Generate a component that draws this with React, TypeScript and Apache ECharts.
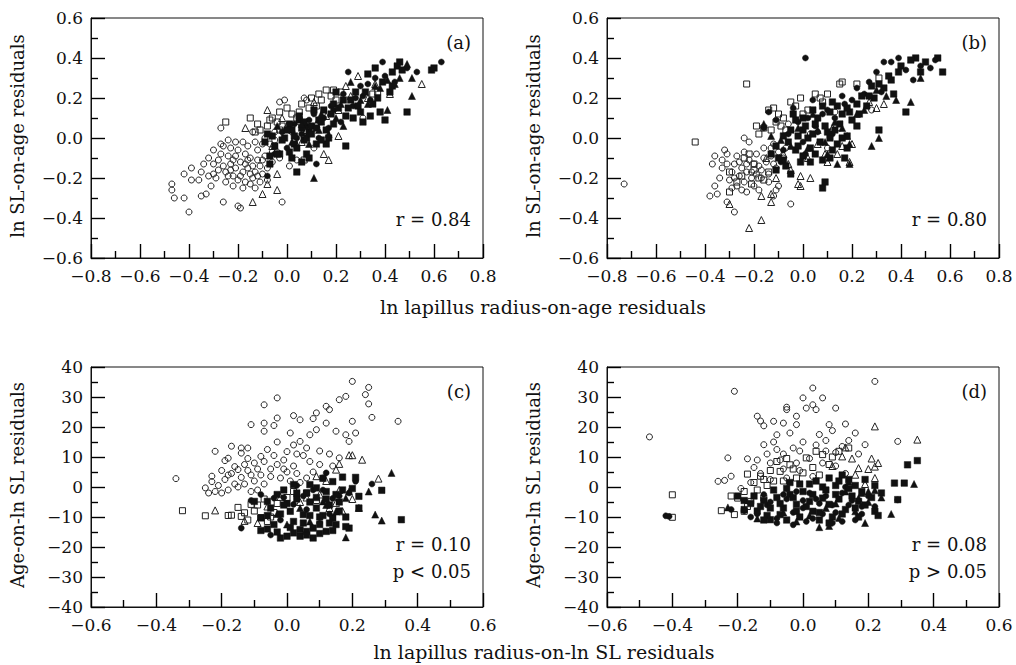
import React, { useEffect, useRef } from "react";
import * as echarts from "echarts";

// ---------- Panel (a): ln SL-on-age residuals vs ln lapillus radius-on-age residuals ----------
const openCircleA = [[-0.47,-0.23],[-0.47,-0.26],[-0.46,-0.30],[-0.42,-0.30],[-0.40,-0.37],[-0.42,-0.18],[-0.39,-0.15],[-0.39,-0.21],[-0.36,-0.21],[-0.35,-0.29],[-0.33,-0.28],[-0.34,-0.13],[-0.32,-0.10],[-0.30,-0.06],[-0.27,0.05],[-0.31,-0.24],[-0.30,-0.18],[-0.27,-0.03],[-0.26,-0.32],[-0.25,-0.17],[-0.24,-0.01],[-0.24,-0.09],[-0.23,-0.13],[-0.22,-0.19],[-0.22,-0.24],[-0.20,-0.34],[-0.19,-0.35],[-0.20,-0.06],[-0.19,-0.12],[-0.18,-0.17],[-0.17,-0.22],[-0.16,-0.04],[-0.15,-0.10],[-0.14,-0.20],[-0.13,-0.25],[-0.12,-0.06],[-0.11,-0.14],[-0.10,-0.18],[-0.02,-0.32],[-0.03,0.18],[-0.01,0.19],[0.07,0.20],[0.08,0.19],[0.01,-0.14],[0.04,-0.11],[0.31,0.10],[-0.28,-0.11],[-0.26,-0.14],[-0.21,-0.09],[-0.18,-0.02],[-0.17,-0.08],[-0.14,-0.14],[-0.13,-0.02],[-0.09,-0.09],[-0.08,-0.21],[-0.07,-0.03],[-0.06,-0.12],[-0.05,0.03],[-0.04,-0.07],[-0.23,-0.05],[-0.29,-0.20],[-0.11,-0.22],[-0.16,-0.15],[-0.20,-0.21],[-0.25,-0.22],[-0.14,0.03],[0.02,0.03],[0.05,0.08],[-0.09,0.00],[0.11,-0.05],[-0.21,-0.15],[-0.18,-0.25],[-0.15,-0.18],[-0.12,-0.11],[-0.24,-0.19],[-0.27,-0.08],[-0.26,-0.04],[-0.22,-0.11],[-0.19,-0.19],[-0.16,-0.11],[-0.13,-0.17],[-0.10,-0.03],[-0.08,-0.15],[-0.06,-0.07],[-0.21,-0.02],[-0.17,-0.13],[-0.12,-0.19],[-0.23,-0.16],[-0.15,-0.23],[-0.10,-0.11],[-0.05,-0.01],[-0.03,-0.10],[-0.35,-0.17],[-0.32,-0.19],[-0.28,-0.16],[-0.30,-0.13]];
const openSquareA = [[-0.25,0.08],[-0.15,0.10],[-0.07,0.09],[-0.06,0.10],[-0.11,0.04],[-0.03,0.13],[0.00,0.15],[0.05,0.13],[0.09,0.15],[0.13,0.22],[0.16,0.24],[0.18,0.21],[0.22,0.23],[0.12,0.16],[0.07,-0.11],[-0.03,0.04],[0.04,0.10],[-0.12,0.07],[-0.08,0.06],[0.37,0.23],[0.35,0.22],[0.10,0.20],[0.20,0.19],[-0.04,0.08],[0.02,0.12],[0.14,0.19],[-0.13,0.03],[0.08,0.03],[0.06,0.17],[0.19,0.24],[-0.02,0.06]];
const openTriangleA = [[-0.08,0.14],[-0.17,0.05],[-0.14,-0.32],[-0.10,-0.28],[-0.08,-0.23],[-0.04,-0.26],[-0.04,-0.18],[0.15,-0.08],[0.17,-0.11],[0.21,0.01],[0.21,0.14],[0.29,0.31],[0.55,0.27],[0.36,0.27],[0.26,0.21],[0.42,0.22],[0.08,0.04],[0.12,0.07],[0.03,-0.01],[-0.06,-0.04],[0.16,0.11],[0.11,0.18],[0.33,0.20],[0.24,0.26],[0.00,0.06],[0.06,-0.02],[-0.02,0.10]];
const filledCircleA = [[0.25,0.33],[0.39,0.38],[0.53,0.33],[0.63,0.38],[0.12,-0.13],[-0.08,-0.19],[0.31,0.21],[0.23,0.22],[0.08,0.06],[0.03,0.07],[0.19,0.14],[0.27,0.16],[0.34,0.19],[0.44,0.28],[0.49,0.35],[0.15,0.10],[0.06,0.02],[-0.02,0.03],[0.11,0.12],[0.22,0.08],[-0.05,-0.08],[0.00,-0.05],[0.36,0.30],[0.30,0.26],[0.17,0.05],[0.04,0.00],[0.09,0.09],[0.13,0.00],[0.18,0.16],[0.28,0.20],[0.33,0.27],[0.40,0.31]];
const filledSquareA = [[0.04,-0.17],[-0.03,-0.08],[0.05,0.09],[0.08,-0.08],[0.12,-0.03],[0.24,-0.04],[0.31,0.08],[0.33,0.32],[0.42,0.23],[0.43,0.33],[0.46,0.38],[0.49,0.13],[0.59,0.34],[0.60,0.35],[0.36,0.35],[0.20,0.23],[0.23,0.19],[0.29,0.16],[0.13,0.09],[0.01,0.07],[-0.06,0.01],[-0.08,0.02],[0.02,0.04],[0.09,0.03],[0.16,0.04],[0.19,0.07],[0.24,0.11],[0.19,0.17],[0.34,0.11],[0.38,0.13],[0.40,0.09],[0.11,0.14],[0.05,0.11],[0.07,-0.01],[-0.04,-0.08],[-0.07,-0.09],[-0.02,-0.01],[0.00,0.04],[0.03,-0.03],[0.16,-0.03],[0.17,0.00],[0.15,0.14],[-0.07,-0.13],[0.06,-0.12],[0.10,0.06],[0.26,0.19],[0.32,0.23],[0.39,0.28],[0.45,0.36],[0.28,0.23],[0.21,0.15],[0.14,0.08],[-0.09,-0.02],[0.01,-0.07],[0.09,-0.10],[0.47,0.34],[0.03,0.01],[0.06,0.05],[0.08,0.00],[0.10,0.02],[0.12,0.05],[0.04,-0.05],[0.14,-0.01],[0.18,0.12],[0.25,0.15],[0.27,0.10],[0.30,0.13],[0.35,0.17],[0.37,0.20],[0.43,0.26],[-0.01,0.00],[0.07,0.08],[0.02,-0.10],[-0.05,-0.04]];
const filledTriangleA = [[0.11,-0.20],[0.41,0.14],[0.51,0.21],[0.51,0.30],[0.49,0.37],[0.46,0.30],[0.36,0.26],[0.23,0.06],[0.20,0.10],[0.17,0.02],[0.26,0.28],[0.33,0.17],[0.41,0.29],[0.13,0.04],[0.02,-0.02],[-0.04,0.06],[0.09,-0.03],[0.30,0.19],[0.38,0.25],[0.44,0.27],[0.06,0.07],[0.14,0.12],[0.22,0.17]];

// ---------- Panel (b) ----------
const openCircleB = [[-0.73,-0.23],[-0.24,0.00],[-0.36,-0.24],[-0.38,-0.29],[-0.35,-0.28],[-0.31,-0.32],[-0.28,-0.37],[-0.37,-0.13],[-0.33,-0.11],[-0.36,-0.09],[-0.31,-0.08],[-0.32,-0.06],[-0.05,-0.33],[-0.12,-0.29],[-0.10,-0.24],[-0.11,-0.26],[-0.30,-0.21],[-0.29,-0.17],[-0.28,-0.13],[-0.27,-0.24],[-0.26,-0.19],[-0.25,-0.15],[-0.24,-0.22],[-0.23,-0.27],[-0.22,-0.11],[-0.21,-0.17],[-0.20,-0.24],[-0.19,-0.08],[-0.18,-0.14],[-0.17,-0.20],[-0.16,-0.05],[-0.15,-0.12],[-0.14,-0.18],[-0.13,-0.09],[-0.12,-0.03],[-0.11,-0.15],[-0.34,-0.20],[-0.33,-0.15],[-0.27,-0.09],[-0.22,-0.02],[-0.29,-0.25],[0.28,0.14],[0.13,0.13],[0.15,0.05],[-0.08,-0.10],[0.03,0.02],[-0.06,0.07],[0.10,-0.05],[-0.18,-0.26],[-0.24,-0.07],[-0.26,-0.12],[-0.23,-0.17],[-0.20,-0.13],[-0.17,-0.16],[-0.14,-0.22],[-0.21,-0.20],[-0.28,-0.20],[-0.25,-0.26],[-0.19,-0.18],[-0.16,-0.10],[-0.12,-0.13],[-0.10,-0.07],[-0.07,-0.05],[-0.13,-0.05],[-0.23,-0.13],[-0.31,-0.13]];
const openSquareB = [[-0.44,-0.02],[-0.23,0.27],[-0.12,0.15],[-0.01,0.20],[-0.05,0.18],[0.15,0.27],[0.16,0.28],[0.22,0.27],[0.31,0.30],[-0.19,0.06],[-0.16,0.05],[-0.14,0.14],[0.05,0.22],[0.08,0.18],[-0.18,-0.20],[-0.25,-0.19],[-0.30,-0.17],[-0.27,-0.22],[-0.21,-0.23],[-0.16,-0.21],[-0.14,-0.17],[-0.30,-0.27],[-0.08,0.10],[-0.03,0.16],[0.07,0.20],[-0.11,0.08],[-0.20,-0.13],[-0.24,-0.10],[-0.10,0.12],[0.02,0.14],[0.10,0.22],[-0.07,0.04],[-0.18,0.02],[-0.13,0.04],[-0.09,0.06],[-0.20,-0.16],[-0.22,-0.08],[0.00,0.12]];
const openTriangleB = [[-0.22,-0.45],[-0.17,-0.41],[-0.30,-0.33],[-0.17,-0.29],[-0.13,-0.32],[-0.13,-0.28],[-0.01,-0.19],[0.03,-0.20],[-0.02,-0.23],[-0.01,-0.24],[-0.06,-0.13],[0.14,-0.08],[0.16,-0.04],[0.19,-0.12],[0.09,-0.08],[0.30,0.15],[0.33,0.17],[0.27,0.18],[-0.05,-0.16],[-0.11,-0.20],[0.06,-0.03],[0.20,-0.03],[0.12,0.05],[-0.15,-0.10],[-0.08,-0.08],[0.02,-0.10],[0.10,-0.12]];
const filledCircleB = [[0.01,0.40],[0.30,0.33],[0.33,0.38],[0.36,0.38],[0.39,0.40],[0.45,0.29],[0.52,0.35],[0.54,0.39],[-0.11,0.09],[-0.14,0.13],[-0.04,0.15],[-0.08,-0.06],[0.04,0.19],[0.16,0.21],[0.22,0.25],[-0.16,0.05],[0.27,0.28],[0.10,0.14],[0.06,0.03],[-0.02,0.08],[0.13,0.10],[0.42,0.34],[0.48,0.36],[0.20,0.19],[0.00,-0.02],[0.05,0.06],[0.02,0.10],[-0.06,0.02],[0.08,0.12],[0.12,0.02],[0.17,0.17],[0.25,0.22],[0.32,0.23],[-0.09,-0.12],[0.01,-0.08]];
const filledSquareB = [[0.42,0.13],[0.31,0.04],[0.22,0.06],[0.19,0.13],[0.09,-0.22],[0.08,-0.25],[0.57,0.33],[0.55,0.40],[0.46,0.40],[0.44,0.39],[0.40,0.36],[0.36,0.29],[0.08,-0.11],[0.05,-0.08],[-0.05,-0.18],[-0.11,-0.16],[-0.08,-0.11],[-0.03,-0.06],[0.00,-0.09],[0.03,-0.12],[0.11,0.00],[0.18,0.01],[0.15,0.07],[0.22,0.17],[0.24,0.21],[0.28,0.26],[0.11,0.13],[0.04,0.14],[-0.03,0.09],[-0.05,0.04],[-0.08,0.01],[-0.11,-0.04],[0.00,0.04],[0.17,-0.10],[0.18,-0.05],[0.06,0.10],[0.13,0.04],[0.02,0.00],[-0.06,-0.02],[0.26,0.16],[0.33,0.25],[0.37,0.22],[0.48,0.33],[-0.02,0.01],[0.09,0.06],[-0.13,-0.08],[0.14,0.16],[0.20,0.09],[0.29,0.20],[0.50,0.38],[-0.02,-0.04],[0.01,0.06],[0.04,0.02],[0.07,-0.02],[0.10,0.03],[0.12,-0.06],[0.16,0.00],[0.05,0.07],[-0.04,0.12],[0.08,0.16],[0.12,0.18],[0.16,0.12],[-0.10,-0.10],[-0.07,-0.14],[0.03,-0.05],[0.00,0.10],[0.18,0.15],[0.23,0.12],[0.27,0.21],[0.31,0.27],[0.35,0.31],[0.39,0.33],[0.11,-0.10],[0.14,-0.03],[-0.01,-0.12]];
const filledTriangleB = [[0.28,-0.04],[0.31,0.00],[0.44,0.18],[0.48,0.30],[0.19,-0.13],[0.14,-0.13],[0.19,-0.03],[0.18,0.01],[-0.16,0.07],[-0.05,-0.04],[0.25,0.14],[0.34,0.21],[-0.13,0.01],[0.02,-0.05],[0.09,-0.02],[0.38,0.19],[0.13,0.08],[0.04,0.12],[-0.09,-0.01],[0.30,0.24],[0.22,0.12],[0.06,0.04],[-0.02,0.05],[0.10,-0.08],[0.16,0.05]];

// ---------- Panel (c): Age-on-ln SL residuals vs ln lapillus radius-on-ln SL residuals ----------
const openCircleC = [[-0.34,2.8],[-0.25,-0.3],[-0.24,-2.0],[-0.23,3.6],[-0.23,1.8],[-0.22,11.9],[-0.19,8.8],[-0.18,9.6],[-0.17,13.6],[-0.14,13.0],[-0.14,11.3],[-0.12,13.0],[-0.11,20.8],[-0.07,27.4],[-0.07,21.3],[-0.07,18.6],[-0.03,29.7],[-0.03,23.0],[-0.04,20.5],[0.02,23.8],[0.04,22.4],[0.01,18.0],[0.08,22.8],[0.09,24.7],[0.12,26.9],[0.13,25.8],[0.16,29.1],[0.18,30.2],[0.20,35.2],[0.20,21.9],[0.21,18.0],[0.24,30.8],[0.25,33.2],[0.25,27.7],[0.26,23.2],[0.34,21.9],[0.18,17.4],[0.15,18.6],[0.12,21.3],[0.09,19.1],[0.07,17.4],[0.04,15.2],[0.02,14.0],[0.00,11.8],[-0.03,15.0],[-0.06,12.5],[-0.08,10.2],[-0.10,8.0],[-0.12,5.5],[-0.14,3.2],[-0.16,1.0],[-0.18,-1.0],[-0.20,-2.0],[-0.21,0.5],[-0.08,4.0],[-0.03,7.5],[0.02,7.0],[0.07,8.5],[0.10,7.5],[0.11,3.0],[0.16,9.7],[0.19,15.2],[0.05,10.5],[-0.01,9.0],[-0.05,6.0],[-0.10,2.0],[-0.13,7.5],[-0.02,3.0],[0.03,4.5],[0.06,13.0],[0.10,12.0],[0.13,11.0],[0.08,5.0],[-0.15,5.8],[-0.07,1.0],[-0.18,4.0],[0.00,5.0],[0.04,1.5],[0.14,7.0],[-0.11,-1.5],[-0.19,2.5],[-0.17,4.5],[-0.15,0.0],[-0.13,1.0],[-0.11,4.0],[-0.09,6.0],[-0.07,8.5],[-0.05,3.5],[-0.04,10.5],[-0.01,6.0],[0.01,2.0],[0.03,11.0],[-0.12,9.5],[-0.16,6.8],[-0.20,5.5],[-0.22,-1.5],[-0.09,-1.0],[0.06,3.0]];
const openSquareC = [[-0.32,-7.9],[-0.25,-9.6],[-0.17,-9.4],[-0.18,-9.5],[-0.15,-6.8],[-0.13,-8.6],[-0.10,-8.0],[-0.08,-10.2],[-0.06,-11.5],[-0.03,-5.5],[0.02,-1.5],[0.06,-2.0],[-0.11,-5.8],[-0.07,-4.0],[-0.12,-11.0],[0.00,-3.5],[0.09,-4.5],[-0.04,-8.5],[-0.09,-6.0],[-0.05,-10.0],[-0.14,-9.8]];
const openTriangleC = [[-0.22,-7.8],[-0.13,-11.3],[-0.02,-3.3],[0.15,5.8],[0.16,7.7],[0.19,10.6],[0.20,10.6],[0.23,9.1],[0.28,2.8],[0.22,-7.0],[0.15,-5.3],[0.17,-8.1],[0.16,-1.0],[0.09,3.6],[0.12,2.0],[0.04,-5.0],[-0.09,-12.0],[0.10,-2.5],[0.20,-4.0],[0.06,-3.5],[-0.06,-6.5],[0.13,-7.0]];
const filledCircleC = [[-0.14,-13.7],[0.12,4.7],[0.26,1.0],[0.21,1.9],[-0.04,-3.7],[-0.08,-2.5],[0.02,-5.8],[-0.02,-11.0],[0.06,-7.5],[0.10,-12.0],[0.16,-3.0],[-0.11,-4.5],[0.03,0.5],[0.08,-1.0],[0.19,-2.0],[-0.05,-16.0],[0.13,-9.0],[0.05,-3.0],[-0.01,-3.5],[0.11,-1.0],[0.14,-3.8]];
const filledSquareC = [[0.35,-10.9],[0.29,-1.1],[0.17,3.3],[0.21,3.2],[0.22,-3.1],[0.22,-7.0],[0.19,-13.7],[0.18,-13.2],[-0.02,-17.0],[0.00,-16.4],[0.02,-15.3],[0.04,-14.2],[0.06,-14.8],[0.08,-13.7],[0.10,-12.5],[0.04,-16.4],[0.08,-17.0],[0.12,-14.8],[0.14,-10.3],[0.15,-2.5],[0.12,-1.5],[0.07,0.8],[0.09,-0.3],[0.11,2.9],[0.14,1.8],[0.02,0.8],[-0.03,-2.5],[-0.06,-4.8],[-0.10,-4.8],[-0.08,-10.3],[-0.04,-12.5],[0.01,-8.1],[0.05,-9.2],[0.09,-7.0],[0.13,-6.0],[0.16,-8.0],[-0.06,-14.0],[-0.02,-9.0],[0.03,-4.0],[0.06,-2.0],[0.11,-9.5],[0.17,-1.0],[0.20,-0.5],[-0.08,-14.5],[0.00,-5.5],[0.07,-5.0],[0.13,-12.0],[-0.01,-1.0],[-0.05,-7.0],[-0.01,-6.0],[0.02,-11.5],[0.05,-12.0],[0.07,-9.5],[0.10,-10.0],[0.12,-4.0],[0.15,-12.5],[0.18,-10.0],[0.03,-2.0],[-0.06,-9.5],[0.06,-16.0],[0.10,-15.5],[0.14,-14.5],[0.01,-13.5],[0.16,-5.0],[0.09,-3.5],[-0.03,-15.0]];
const filledTriangleC = [[0.32,4.7],[0.27,-9.2],[0.29,-11.2],[0.18,-16.8],[0.15,-8.2],[0.18,-3.7],[0.19,-1.5],[0.12,-6.0],[0.11,-4.8],[0.04,-7.0],[-0.03,-9.0],[0.25,-1.5],[0.07,-11.5],[0.00,-12.5]];

// ---------- Panel (d) ----------
const openCircleD = [[-0.47,16.7],[-0.21,31.9],[-0.23,9.7],[-0.17,9.4],[-0.26,1.9],[-0.24,2.2],[-0.22,3.6],[-0.14,23.6],[-0.12,20.4],[-0.13,22.0],[-0.09,21.9],[-0.06,21.3],[-0.05,25.8],[-0.05,26.6],[-0.02,20.8],[-0.02,23.6],[0.00,29.7],[0.01,26.3],[0.03,33.0],[0.03,27.4],[0.04,25.8],[0.06,29.7],[0.10,26.3],[0.08,20.8],[0.09,18.8],[0.13,21.0],[0.22,35.2],[0.29,15.2],[-0.08,17.4],[-0.09,15.0],[-0.12,14.1],[-0.11,11.0],[-0.08,12.5],[-0.06,11.0],[-0.03,13.0],[-0.01,12.0],[0.05,17.5],[0.04,14.0],[0.16,18.0],[0.19,14.1],[0.14,15.5],[0.10,11.5],[-0.15,6.5],[-0.13,4.5],[-0.10,8.0],[-0.06,6.0],[-0.02,8.0],[0.02,9.5],[0.07,12.0],[0.12,13.5],[-0.16,1.5],[-0.19,-0.5],[-0.04,18.0],[0.07,15.5],[0.17,11.0],[-0.14,9.0],[-0.10,2.5],[-0.05,3.0],[-0.01,5.5],[0.03,3.5],[0.06,8.0],[0.10,7.0],[0.00,15.0],[-0.07,9.0],[0.13,4.5]];
const openSquareD = [[-0.40,-2.6],[-0.40,-10.1],[-0.25,-7.9],[-0.21,-9.2],[-0.17,4.3],[-0.18,-1.5],[-0.13,3.6],[-0.12,2.5],[-0.07,5.2],[-0.04,7.4],[0.01,9.7],[0.04,11.9],[0.06,10.8],[0.11,11.9],[0.14,13.0],[-0.16,-4.8],[-0.12,-3.7],[-0.20,-3.7],[-0.18,-8.1],[-0.02,3.0],[0.00,4.7],[-0.08,8.5],[-0.05,9.5],[-0.09,2.0],[-0.15,1.5],[0.03,6.5],[0.08,7.5],[-0.10,5.5],[-0.14,-1.0],[-0.11,0.5],[-0.06,2.0],[-0.03,6.0],[0.05,4.0],[-0.22,-3.0],[-0.17,-6.5],[0.09,10.0]];
const openTriangleD = [[0.22,20.2],[0.35,15.8],[0.23,8.0],[0.22,6.8],[0.22,3.0],[0.16,4.1],[0.17,6.3],[0.12,10.2],[0.13,13.2],[0.19,1.0],[0.20,6.0],[0.09,7.0],[0.15,9.5],[0.21,9.5]];
const filledCircleD = [[-0.41,-9.8],[-0.42,-9.6],[-0.03,-12.6],[0.09,-12.0],[0.03,-10.5],[-0.08,-10.5],[-0.14,-9.0],[-0.18,-8.0],[-0.22,-7.5],[-0.10,-5.0],[-0.05,-4.0],[0.00,-7.0],[0.05,-5.5],[0.10,-8.5],[0.14,-6.0],[0.18,-9.0],[0.22,-6.5],[0.29,-4.3],[0.12,-2.0],[0.07,-3.0],[-0.02,-1.5],[-0.12,-2.5],[0.16,-11.0],[0.20,-3.0],[0.02,-2.0],[-0.16,-10.0],[-0.11,-6.0],[-0.06,-2.5],[-0.03,-8.5],[0.01,-11.5],[0.04,-4.0],[0.06,-9.0],[0.09,-6.0],[0.12,-11.5],[0.15,-4.5],[0.18,-6.5],[-0.08,-12.0],[0.00,-4.5],[0.13,0.0]];
const filledSquareD = [[-0.10,-10.9],[0.22,-8.1],[0.32,7.4],[0.35,8.8],[0.28,1.3],[0.31,1.3],[0.29,-4.2],[0.22,0.5],[0.17,-4.8],[0.18,-1.5],[0.12,4.0],[0.08,3.0],[0.04,2.0],[0.00,-1.5],[-0.04,-2.5],[-0.08,-3.5],[-0.12,-4.5],[-0.16,-5.5],[-0.18,-4.5],[-0.06,-7.0],[-0.02,-5.8],[0.02,-4.8],[0.06,-3.7],[0.10,-2.5],[0.14,-0.5],[0.08,-5.8],[0.03,-8.1],[-0.02,-8.1],[-0.07,-9.2],[0.12,-9.0],[0.16,-7.0],[-0.14,-8.0],[-0.10,-7.0],[0.05,-11.0],[0.19,2.5],[0.14,2.5],[-0.01,1.0],[0.10,0.5],[0.24,-2.0],[0.06,0.0],[-0.05,-0.5],[-0.20,-3.0],[-0.18,-7.5],[-0.15,-3.0],[-0.13,-6.5],[-0.11,-9.5],[-0.09,-1.0],[-0.07,-5.5],[-0.05,-11.0],[-0.03,-3.5],[-0.01,-10.0],[0.01,-6.5],[0.03,-2.5],[0.05,-8.5],[0.07,-1.0],[0.09,-10.0],[0.11,-4.0],[0.13,-7.5],[0.15,-3.0],[0.17,-10.0],[0.19,-6.0],[0.21,-3.5],[0.23,-9.5],[0.02,1.0],[0.11,2.0],[0.16,0.5],[-0.04,1.5],[0.08,-12.0],[-0.12,-11.0]];
const filledTriangleD = [[-0.23,-6.8],[0.05,-13.4],[0.19,-12.0],[0.27,-9.0],[0.34,1.0],[0.22,-1.1],[0.20,-1.5],[0.13,-1.5],[0.14,1.8],[0.17,-3.7],[0.16,-8.1],[0.11,-10.3],[-0.02,-11.5],[0.07,-7.0],[0.20,-5.0],[0.24,-3.5],[0.10,-5.5],[-0.06,-8.5],[-0.14,-10.5],[0.02,-9.5],[0.08,-13.0],[0.18,-2.0]];

// ---------- Text ----------
const panelLetters = ["(a)", "(b)", "(c)", "(d)"];
const statLines = [["r = 0.84"], ["r = 0.80"], ["r = 0.10", "p < 0.05"], ["r = 0.08", "p > 0.05"]];
const topXTitle = "ln lapillus radius-on-age residuals";
const bottomXTitle = "ln lapillus radius-on-ln SL residuals";
const topYTitle = "ln SL-on-age residuals";
const bottomYTitle = "Age-on-ln SL residuals";
const xRangeTop = [-0.8, 0.8, 0.2];
const yRangeTop = [-0.6, 0.6, 0.2];
const xRangeBottom = [-0.6, 0.6, 0.2];
const yRangeBottom = [-40, 40, 10];

const FONT = "DejaVu Serif";
const INK = "#111";

const panels = [
  { oc: openCircleA, os: openSquareA, ot: openTriangleA, fc: filledCircleA, fs: filledSquareA, ft: filledTriangleA },
  { oc: openCircleB, os: openSquareB, ot: openTriangleB, fc: filledCircleB, fs: filledSquareB, ft: filledTriangleB },
  { oc: openCircleC, os: openSquareC, ot: openTriangleC, fc: filledCircleC, fs: filledSquareC, ft: filledTriangleC },
  { oc: openCircleD, os: openSquareD, ot: openTriangleD, fc: filledCircleD, fs: filledSquareD, ft: filledTriangleD },
];

const gridPos = [
  { left: 91, top: 18 },
  { left: 607, top: 18 },
  { left: 91, top: 367 },
  { left: 607, top: 367 },
];
const GW = 392;
const GH = 240;

function fmt(decimals: number) {
  return (v: number) => {
    const r = Math.round(v * 1000) / 1000;
    const s = Math.abs(r).toFixed(decimals);
    return r < 0 ? "\u2212" + s : s;
  };
}

function makeAxis(kind: "x" | "y", idx: number, range: number[], decimals: number) {
  return {
    type: "value",
    gridIndex: idx,
    min: range[0],
    max: range[1],
    interval: range[2],
    axisLine: { show: true, onZero: false, lineStyle: { color: INK, width: 1 } },
    axisTick: { show: true, inside: true, length: 14, lineStyle: { color: "#000", width: 1.4 } },
    minorTick: { show: true, splitNumber: 2, length: 7, lineStyle: { color: "#000", width: 1.4 } },
    splitLine: { show: false },
    axisLabel: {
      show: true,
      color: INK,
      fontFamily: FONT,
      fontSize: 17,
      margin: kind === "x" ? 9 : 8,
      showMinLabel: true,
      showMaxLabel: true,
      formatter: fmt(decimals),
    },
  };
}

function mkSeries(data: number[][], symbol: string, filled: boolean, idx: number) {
  const size = symbol === "triangle" ? 7 : symbol === "rect" ? (filled ? 6.5 : 6) : 6;
  return {
    type: "scatter",
    xAxisIndex: idx,
    yAxisIndex: idx,
    data,
    symbol,
    symbolSize: size,
    silent: true,
    itemStyle: filled
      ? { color: INK, borderColor: INK, borderWidth: 0.5, opacity: 1 }
      : { color: "rgba(255,255,255,0)", borderColor: "#222", borderWidth: 1, opacity: 1 },
  };
}

export default function App() {
  const ref = useRef<HTMLDivElement>(null);
  useEffect(() => {
    document.body.style.margin = "0";
    if (!ref.current) return;
    const chart = echarts.init(ref.current, null, { renderer: "svg" });

    const grids = gridPos.map((g) => ({
      left: g.left,
      top: g.top,
      width: GW,
      height: GH,
      show: true,
      borderColor: INK,
      borderWidth: 1,
    }));

    const xAxes = [0, 1, 2, 3].map((i) => makeAxis("x", i, i < 2 ? xRangeTop : xRangeBottom, 1));
    const yAxes = [0, 1, 2, 3].map((i) => makeAxis("y", i, i < 2 ? yRangeTop : yRangeBottom, i < 2 ? 1 : 0));

    const series: any[] = [];
    panels.forEach((p, i) => {
      series.push(mkSeries(p.oc, "circle", false, i));
      series.push(mkSeries(p.os, "rect", false, i));
      series.push(mkSeries(p.ot, "triangle", false, i));
      series.push(mkSeries(p.fc, "circle", true, i));
      series.push(mkSeries(p.fs, "rect", true, i));
      series.push(mkSeries(p.ft, "triangle", true, i));
    });

    const graphics: any[] = [];
    const textStyle = (text: string, size: number, align: string) => ({
      text,
      fill: INK,
      font: `${size}px "${FONT}"`,
      align,
      verticalAlign: "middle",
    });
    gridPos.forEach((g, i) => {
      const right = g.left + GW - 12;
      graphics.push({ type: "text", x: right, y: g.top + 24, style: textStyle(panelLetters[i], 18, "right") });
      const lines = statLines[i];
      if (lines.length === 1) {
        graphics.push({ type: "text", x: right, y: g.top + 201, style: textStyle(lines[0], 18, "right") });
      } else {
        graphics.push({ type: "text", x: right, y: g.top + 177, style: textStyle(lines[0], 18, "right") });
        graphics.push({ type: "text", x: right, y: g.top + 204, style: textStyle(lines[1], 18, "right") });
      }
      const yTitle = i < 2 ? topYTitle : bottomYTitle;
      graphics.push({
        type: "text",
        x: g.left - 74,
        y: g.top + GH / 2 - 2,
        rotation: Math.PI / 2,
        style: textStyle(yTitle, 18, "center"),
      });
    });
    graphics.push({ type: "text", x: 543, y: 307, style: textStyle(topXTitle, 19, "center") });
    graphics.push({ type: "text", x: 544, y: 652, style: textStyle(bottomXTitle, 19, "center") });

    chart.setOption({
      animation: false,
      backgroundColor: "#fff",
      grid: grids,
      xAxis: xAxes,
      yAxis: yAxes,
      series,
      graphic: graphics,
    });
    return () => chart.dispose();
  }, []);
  return <div ref={ref} style={{ width: 1016, height: 665 }} />;
}
